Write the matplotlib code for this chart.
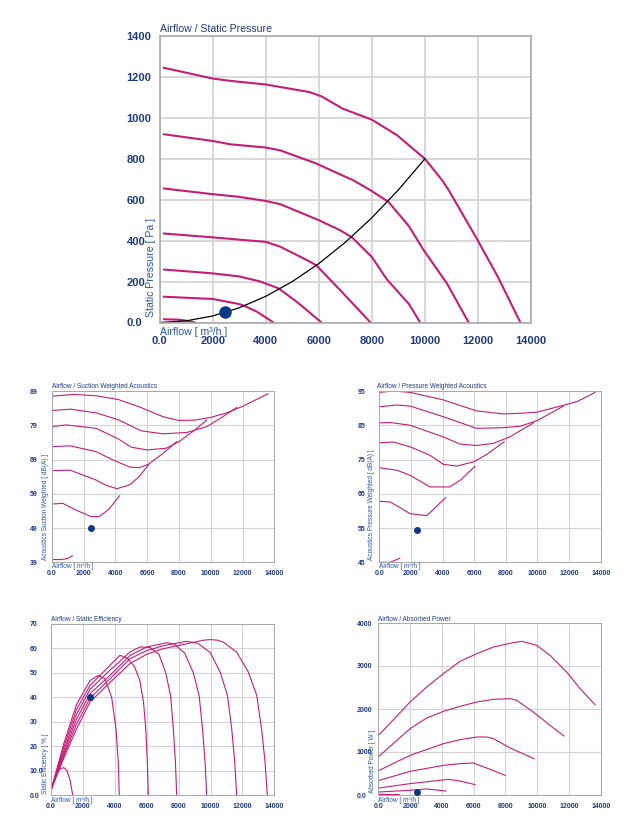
import matplotlib
matplotlib.use("Agg")
import matplotlib.pyplot as plt

plt.rcParams['font.family'] = ['Liberation Sans', 'DejaVu Sans']

# ---------------- data ----------------
airflow_ticks = [0, 2000, 4000, 6000, 8000, 10000, 12000, 14000]
airflow_ticklabels = ["0.0", "2000", "4000", "6000", "8000", "10000", "12000", "14000"]

# Static pressure curves (Pa) per speed step
sp_x = [
    [150, 2000, 2650, 4000, 5650, 6100, 6900, 8000, 8950, 10000, 10650, 10900, 11950, 12750, 13600],
    [150, 2000, 2650, 4000, 4550, 5900, 6800, 7300, 7950, 8630, 9400, 9950, 10830, 11650],
    [150, 2000, 3000, 4000, 4550, 6000, 6800, 7250, 8000, 8570, 9400, 9820],
    [150, 2000, 3000, 4000, 4550, 5550, 5900, 6800, 7950],
    [150, 2000, 3000, 3800, 4480, 5170, 6100],
    [150, 2000, 3000, 3220, 3660, 4290],
    [150, 700, 1000, 1330],
]
sp_y = [
    [1245, 1192, 1181, 1163, 1126, 1105, 1045, 991, 915, 800, 695, 646, 411, 223, 0],
    [920, 887, 871, 855, 841, 777, 724, 695, 646, 589, 470, 354, 191, 0],
    [655, 627, 614, 594, 578, 500, 451, 416, 320, 210, 90, 0],
    [435, 416, 405, 394, 370, 305, 280, 159, 0],
    [259, 240, 225, 200, 167, 101, 0],
    [126, 115, 90, 80, 53, 0],
    [16, 14, 9, 0],
]
system_x = [0, 1000, 2000, 3000, 4000, 5000, 6000, 7000, 8000, 9000, 10000]
system_y = [0, 8, 32, 72, 128, 200, 288, 392, 512, 648, 800]
op_flow = 2480
op_pressure = 50

# Suction weighted acoustics dB(A)
sw_x = [
    [0, 1400, 2800, 4200, 5600, 7000, 8000, 9000, 10000, 11000, 12000, 13000, 13600],
    [0, 1200, 2800, 4200, 5600, 7000, 8500, 9750, 10800, 11640],
    [0, 900, 2800, 4200, 5000, 6000, 7200, 8000, 9000, 9750],
    [0, 1150, 2800, 3800, 4900, 5500, 6080, 7000, 7860],
    [0, 1150, 2800, 3400, 4100, 4900, 5500, 6080],
    [0, 700, 1500, 2500, 3000, 3600, 4260],
    [0, 600, 1000, 1300],
]
sw_y = [
    [87.5, 88.0, 87.6, 86.5, 84.2, 81.5, 80.4, 80.5, 81.3, 82.6, 84.5, 86.8, 88.2],
    [83.3, 83.7, 82.6, 80.6, 77.4, 76.5, 76.9, 78.6, 81.6, 84.2],
    [78.6, 79.1, 78.1, 75.0, 72.6, 71.8, 72.3, 74.2, 77.6, 80.5],
    [72.75, 73.0, 71.3, 69.0, 66.8, 66.6, 67.6, 70.8, 74.2],
    [65.75, 65.9, 63.0, 61.5, 60.5, 61.6, 64.0, 67.4],
    [56.0, 56.2, 54.3, 52.3, 52.4, 54.5, 58.4],
    [39.8, 39.8, 40.1, 40.9],
]
sw_op = 49.0

# Pressure weighted acoustics dB(A)
pw_x = [
    [0, 900, 1950, 4050, 6150, 7850, 8900, 9950, 11450, 12500, 13650],
    [0, 1100, 1950, 4050, 6150, 7850, 8900, 9950, 11650],
    [0, 700, 1950, 4050, 5100, 6150, 7200, 8250, 9750],
    [0, 900, 1950, 3200, 4050, 4900, 5950, 6800, 7900],
    [0, 1100, 1950, 3200, 4450, 5100, 6050],
    [0, 700, 1950, 3000, 4200],
    [0, 700, 1300],
]
pw_y = [
    [94.6, 95.0, 94.6, 92.4, 89.2, 88.3, 88.5, 88.8, 90.6, 91.9, 94.6],
    [90.4, 90.9, 90.6, 87.5, 84.1, 84.3, 84.7, 86.3, 90.6],
    [85.7, 85.8, 85.0, 81.6, 79.5, 79.1, 79.7, 81.6, 85.7],
    [79.9, 80.1, 78.7, 76.25, 73.6, 73.1, 74.3, 76.5, 80.2],
    [72.6, 71.9, 70.4, 67.0, 67.0, 68.9, 73.0],
    [62.8, 62.6, 59.2, 58.6, 63.9],
    [45.0, 45.0, 46.2],
]
pw_op = 54.5

# Static efficiency (%)
ef_x = [
    [0, 800, 1600, 2450, 3700, 4950, 6000, 7040, 8500, 9500, 9970, 10400, 10800, 11640, 12370, 12900, 13200, 13420, 13560],
    [0, 800, 1600, 2450, 3700, 4950, 6000, 7040, 8500, 9200, 9990, 10620, 11070, 11330, 11520, 11640],
    [0, 800, 1600, 2450, 3700, 4950, 6000, 7250, 7700, 8380, 8920, 9290, 9500, 9660, 9760],
    [0, 800, 1600, 2450, 3700, 4950, 5580, 6200, 6770, 7190, 7500, 7670, 7800, 7880],
    [0, 800, 1600, 2450, 3700, 4325, 4800, 5230, 5560, 5800, 5940, 6040, 6100],
    [0, 800, 1600, 2450, 2970, 3385, 3800, 4075, 4220, 4280],
    [0, 300, 550, 800, 1000, 1200, 1360],
]
ef_y = [
    [2, 15, 27, 38, 46, 53.7, 57.5, 59.8, 61.8, 63.2, 63.5, 63.3, 62.5, 58.4, 50.3, 40.7, 27.1, 13.5, 0],
    [2, 16, 29, 39.6, 47.5, 55.7, 59, 61, 62.8, 62.0, 58.2, 50, 40.5, 27, 13.5, 0],
    [2, 17, 31, 41.4, 48.9, 57, 60.5, 62.2, 61.8, 58, 50, 40.5, 27, 13.5, 0],
    [2, 18, 33, 43.2, 51, 58.4, 60.5, 60.3, 57.5, 50, 40.5, 27, 13.5, 0],
    [2, 19.5, 35, 44.8, 53, 57.1, 55.8, 52.5, 47, 38, 27, 13.5, 0],
    [2, 21, 37, 46.8, 48.9, 47.5, 40, 27, 13.5, 0],
    [2, 8, 10.6, 11.2, 10, 6, 0],
]
ef_op = 40.0

# Absorbed power (W)
pa_x = [
    [60, 2000, 3050, 4100, 5150, 6200, 7250, 8500, 9030, 9970, 10810, 11860, 12700, 13640],
    [60, 2000, 3050, 4100, 5150, 6200, 7250, 8300, 8710, 9760, 10810, 11690],
    [60, 2000, 4100, 5150, 6200, 6820, 7250, 8300, 9800],
    [60, 2000, 4100, 5150, 5980, 6820, 7980],
    [60, 2000, 4400, 5150, 6090],
    [60, 2000, 3050, 4260],
    [60, 700, 1320],
]
pa_y = [
    [1403, 2163, 2512, 2822, 3109, 3287, 3442, 3543, 3574, 3481, 3248, 2860, 2473, 2101],
    [907, 1543, 1791, 1946, 2062, 2163, 2225, 2240, 2202, 1930, 1620, 1372],
    [574, 922, 1194, 1287, 1349, 1349, 1310, 1093, 845],
    [341, 550, 690, 729, 744, 628, 457],
    [163, 264, 364, 326, 240],
    [70, 110, 140, 93],
    [15, 12, 10],
]
pa_op = 70

# ---------------- style ----------------
CURVE = '#c41d78'
DOT = '#0b3786'
TICK = '#1e3a84'
LABEL = '#2956a6'
GRID = '#d4d4d4'
SPINE = '#a9a9a9'
W, H = 639, 826
fig = plt.figure(figsize=(W / 100, H / 100), dpi=100)


def px_axes(l, t, r, b):
    return fig.add_axes([l / W, 1 - b / H, (r - l) / W, (b - t) / H])


def style(ax, ylim, yticks, yticklabels, title, xlabel, ylabel,
          tick_fs, lab_fs, ypad, xpad, title_dy, xlab_dy, ylab_dx, ylab_dy,
          grid_lw, title_dx=0):
    ax.set_xlim(0, 14000)
    ax.set_ylim(*ylim)
    ax.set_xticks(airflow_ticks)
    ax.set_xticklabels(airflow_ticklabels)
    ax.set_yticks(yticks)
    ax.set_yticklabels(yticklabels)
    ax.tick_params(axis='both', length=0, labelsize=tick_fs, labelcolor=TICK)
    ax.tick_params(axis='y', pad=ypad)
    ax.tick_params(axis='x', pad=xpad)
    for lab in ax.get_yticklabels():
        lab.set_ha('left')
        lab.set_fontweight('bold')
    for lab in ax.get_xticklabels():
        lab.set_fontweight('bold')
    ax.grid(True, color=GRID, lw=grid_lw)
    ax.set_axisbelow(True)
    for s in ax.spines.values():
        s.set_color(SPINE)
        s.set_linewidth(grid_lw * 0.9)
    ax.annotate(title, xy=(0, 1), xycoords='axes fraction', xytext=(title_dx, title_dy),
                textcoords='offset points', ha='left', va='center',
                fontsize=lab_fs, color=TICK)
    ax.annotate(xlabel, xy=(0, 0), xycoords='axes fraction', xytext=(0, -xlab_dy),
                textcoords='offset points', ha='left', va='center',
                fontsize=lab_fs, color=LABEL)
    ax.annotate(ylabel, xy=(0, 0), xycoords='axes fraction', xytext=(-ylab_dx, ylab_dy),
                textcoords='offset points', ha='center', va='bottom', rotation=90,
                fontsize=lab_fs, color=LABEL)


XLAB = "Airflow [ m³/h ]"

# ---- top: static pressure ----
ax = px_axes(159.7, 36, 531, 322.5)
for xs, ys in zip(sp_x, sp_y):
    ax.plot(xs, ys, color=CURVE, lw=1.5, solid_capstyle='round')
ax.plot(system_x, system_y, color='black', lw=0.9)
ax.plot([op_flow], [op_pressure], 'o', color=DOT, ms=8, zorder=5)
style(ax, (0, 1400), list(range(0, 1401, 200)),
      ["0.0", "200", "400", "600", "800", "1000", "1200", "1400"],
      "Airflow / Static Pressure", XLAB, "Static Pressure [ Pa ]",
      tick_fs=8, lab_fs=7.6, ypad=23.9, xpad=9.5, title_dy=4.8, xlab_dy=6.5,
      ylab_dx=6.6, ylab_dy=4, grid_lw=1.3)

# ---- middle left: suction acoustics ----
ax = px_axes(51.7, 391, 274.3, 562.3)
for xs, ys in zip(sw_x, sw_y):
    ax.plot(xs, ys, color=CURVE, lw=0.8)
ax.plot([op_flow], [sw_op], 'o', color=DOT, ms=4, zorder=5)
style(ax, (39, 89), [39, 49, 59, 69, 79, 89], ["39", "49", "59", "69", "79", "89"],
      "Airflow / Suction Weighted Acoustics", XLAB, "Acoustics Suction Weighted [ dB(A) ]",
      tick_fs=5, lab_fs=4.7, ypad=15.6, xpad=5.8, title_dy=3.6, xlab_dy=3.2,
      ylab_dx=4.8, ylab_dy=1.7, grid_lw=0.8)

# ---- middle right: pressure acoustics ----
ax = px_axes(379.3, 391, 600.7, 562.3)
for xs, ys in zip(pw_x, pw_y):
    ax.plot(xs, ys, color=CURVE, lw=0.8)
ax.plot([2400], [pw_op], 'o', color=DOT, ms=4, zorder=5)
style(ax, (45, 95), [45, 55, 65, 75, 85, 95], ["45", "55", "65", "75", "85", "95"],
      "Airflow / Pressure Weighted Acoustics", XLAB, "Acoustics Pressure Weighted [ dB(A) ]",
      tick_fs=5, lab_fs=4.7, ypad=15.6, xpad=5.8, title_dy=3.6, xlab_dy=3.2,
      ylab_dx=5.6, ylab_dy=1.7, grid_lw=0.8, title_dx=-1.4)

# ---- bottom left: efficiency ----
ax = px_axes(51, 623.7, 274.3, 795)
for xs, ys in zip(ef_x, ef_y):
    ax.plot(xs, ys, color=CURVE, lw=0.8)
ax.plot([2450], [ef_op], 'o', color=DOT, ms=4, zorder=5)
style(ax, (0, 70), list(range(0, 71, 10)),
      ["0.0", "10.0", "20", "30", "40", "50", "60", "70"],
      "Airflow / Static Efficiency", XLAB, "Static Efficiency [ % ]",
      tick_fs=5, lab_fs=4.7, ypad=15.5, xpad=6.0, title_dy=3.2, xlab_dy=4.3,
      ylab_dx=3.8, ylab_dy=1.0, grid_lw=0.8)

# ---- bottom right: absorbed power ----
ax = px_axes(378.3, 623, 600.7, 795)
for xs, ys in zip(pa_x, pa_y):
    ax.plot(xs, ys, color=CURVE, lw=0.8)
ax.plot([2450], [pa_op], 'o', color=DOT, ms=4, zorder=5)
style(ax, (0, 4000), list(range(0, 4001, 1000)),
      ["0.0", "1000", "2000", "3000", "4000"],
      "Airflow / Absorbed Power", XLAB, "Absorbed Power [ W ]",
      tick_fs=5, lab_fs=4.7, ypad=15.6, xpad=6.0, title_dy=2.8, xlab_dy=4.3,
      ylab_dx=4.0, ylab_dy=1.4, grid_lw=0.8)

fig.savefig("out.png", dpi=100, facecolor='white')
